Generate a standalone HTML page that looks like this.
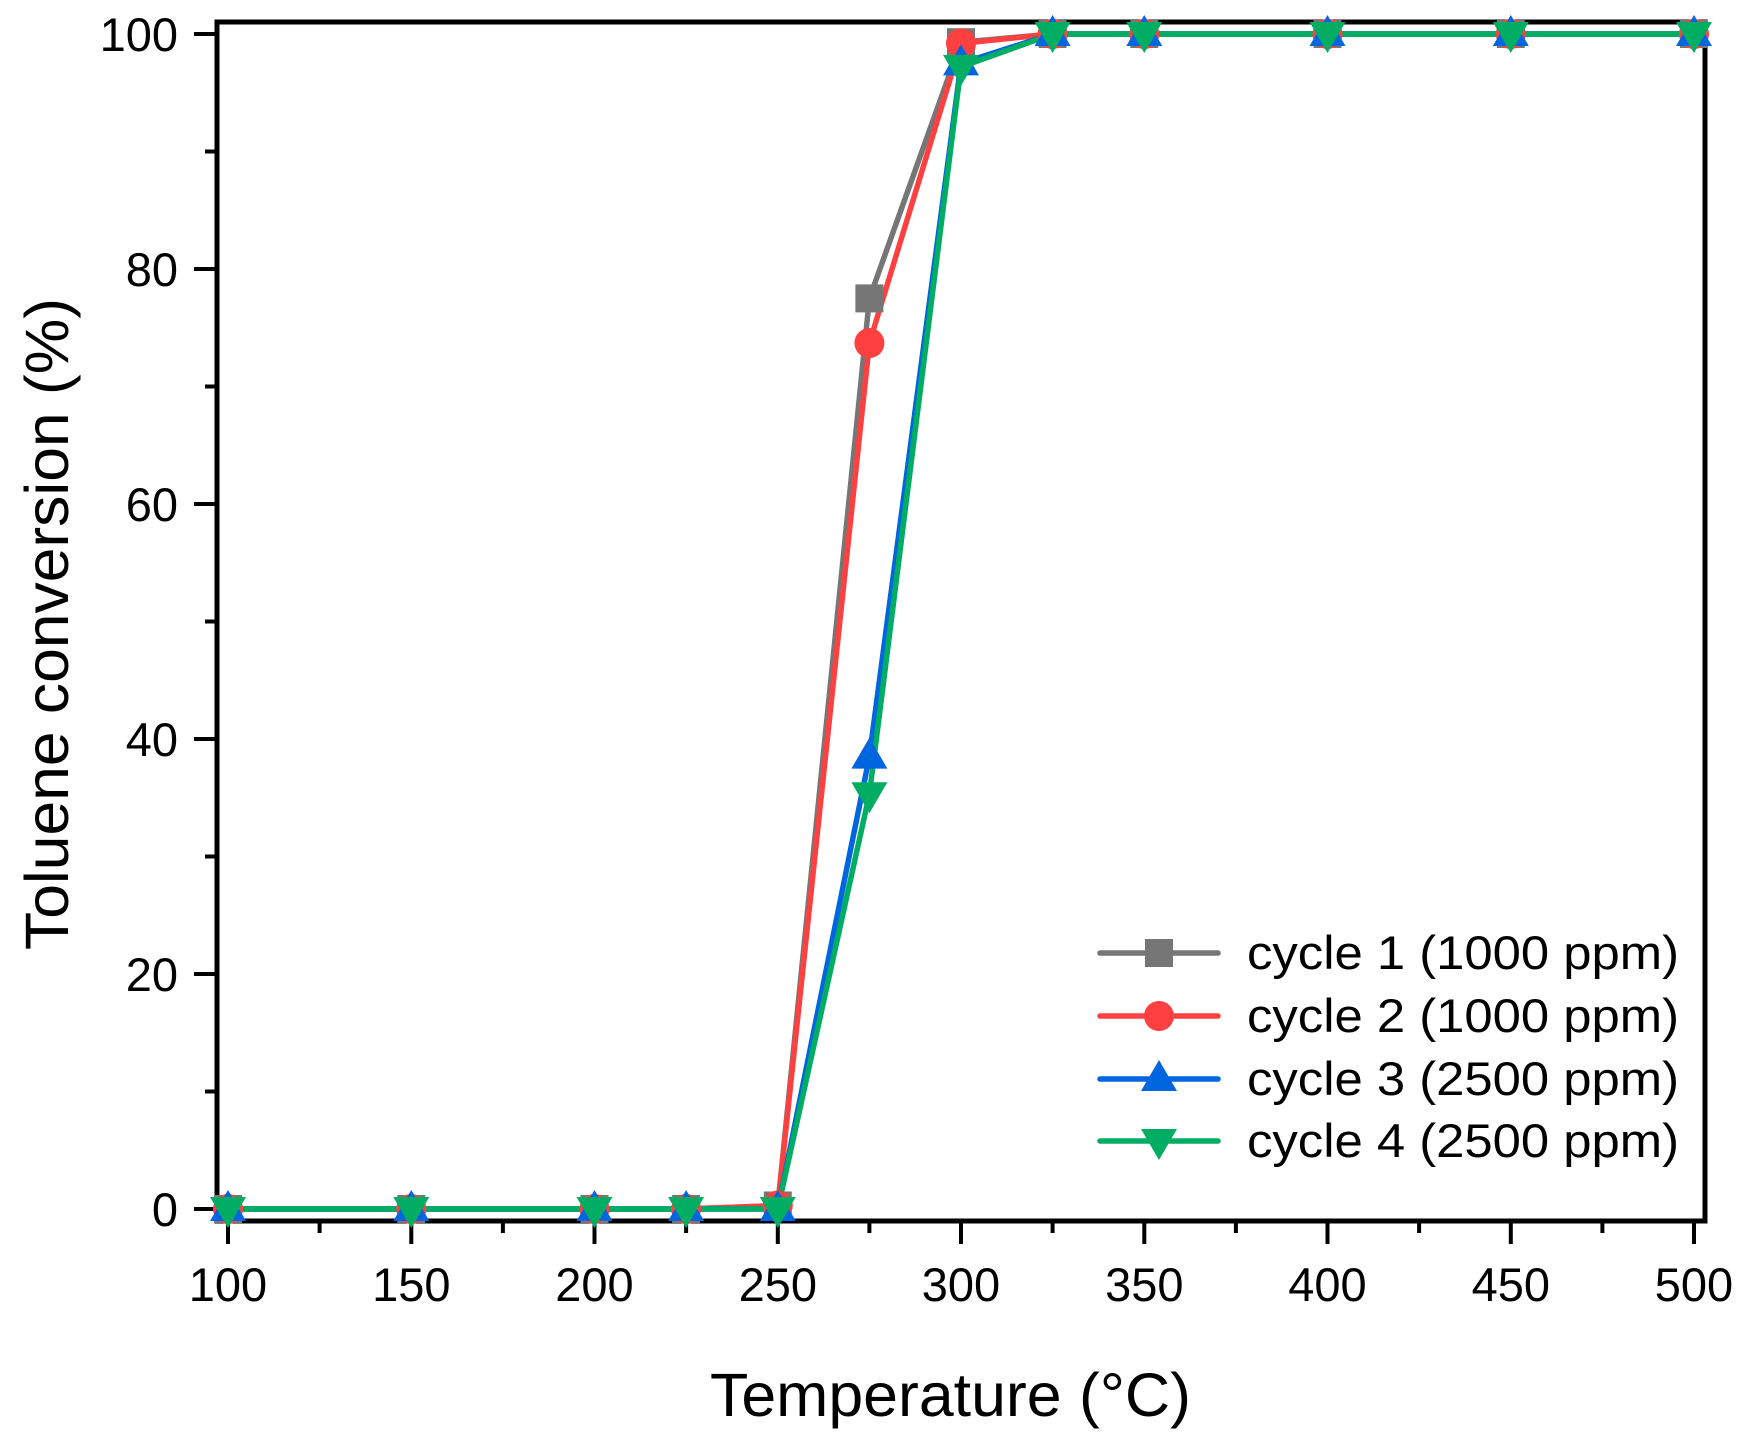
<!DOCTYPE html>
<html><head><meta charset="utf-8"><style>html,body{margin:0;padding:0;background:#fff}svg{display:block}</style></head><body>
<svg width="1748" height="1443" viewBox="0 0 1748 1443" xmlns="http://www.w3.org/2000/svg" font-family="Liberation Sans, Arial, sans-serif">
<defs>
<rect id="sq" x="-14" y="-14" width="28" height="28" fill="#767676"/>
<circle id="ci" r="15" fill="#ff4040"/>
<polygon id="tu" points="0,-19 18,12 -18,12" fill="#0066e0"/>
<polygon id="td" points="0,19 18,-12 -18,-12" fill="#00ad63"/>
</defs>
<rect x="217" y="22" width="1488" height="1199" fill="none" stroke="#000" stroke-width="5"/>
<g stroke="#000" stroke-width="4">
<line x1="228" y1="1221" x2="228" y2="1244"/><line x1="411.3" y1="1221" x2="411.3" y2="1244"/><line x1="594.5" y1="1221" x2="594.5" y2="1244"/><line x1="777.8" y1="1221" x2="777.8" y2="1244"/><line x1="961" y1="1221" x2="961" y2="1244"/><line x1="1144.3" y1="1221" x2="1144.3" y2="1244"/><line x1="1327.5" y1="1221" x2="1327.5" y2="1244"/><line x1="1510.8" y1="1221" x2="1510.8" y2="1244"/><line x1="1694" y1="1221" x2="1694" y2="1244"/>
<line x1="319.6" y1="1221" x2="319.6" y2="1233"/><line x1="502.9" y1="1221" x2="502.9" y2="1233"/><line x1="686.1" y1="1221" x2="686.1" y2="1233"/><line x1="869.4" y1="1221" x2="869.4" y2="1233"/><line x1="1052.6" y1="1221" x2="1052.6" y2="1233"/><line x1="1235.9" y1="1221" x2="1235.9" y2="1233"/><line x1="1419.1" y1="1221" x2="1419.1" y2="1233"/><line x1="1602.4" y1="1221" x2="1602.4" y2="1233"/>
<line x1="194" y1="1209" x2="217" y2="1209"/><line x1="194" y1="974" x2="217" y2="974"/><line x1="194" y1="739" x2="217" y2="739"/><line x1="194" y1="504" x2="217" y2="504"/><line x1="194" y1="269" x2="217" y2="269"/><line x1="194" y1="34" x2="217" y2="34"/>
<line x1="205" y1="1091.5" x2="217" y2="1091.5"/><line x1="205" y1="856.5" x2="217" y2="856.5"/><line x1="205" y1="621.5" x2="217" y2="621.5"/><line x1="205" y1="386.5" x2="217" y2="386.5"/><line x1="205" y1="151.5" x2="217" y2="151.5"/>
</g>
<g font-size="47" text-anchor="middle" fill="#000">
<text x="228" y="1301">100</text><text x="411.3" y="1301">150</text><text x="594.5" y="1301">200</text><text x="777.8" y="1301">250</text><text x="961" y="1301">300</text><text x="1144.3" y="1301">350</text><text x="1327.5" y="1301">400</text><text x="1510.8" y="1301">450</text><text x="1694" y="1301">500</text>
</g>
<g font-size="47" text-anchor="end" fill="#000">
<text x="178" y="1226">0</text><text x="178" y="991">20</text><text x="178" y="756">40</text><text x="178" y="521">60</text><text x="178" y="286">80</text><text x="178" y="51">100</text>
</g>
<text x="710" y="1416" font-size="61" textLength="481" lengthAdjust="spacingAndGlyphs">Temperature (°C)</text>
<text transform="translate(68,624) rotate(-90)" font-size="61" text-anchor="middle" textLength="652" lengthAdjust="spacingAndGlyphs">Toluene conversion (%)</text>
<g fill="none" stroke-width="5.5" stroke-linejoin="round">
<polyline stroke="#767676" points="228,1209 411.3,1209 594.5,1209 686.1,1209 777.8,1205.5 869.4,298.4 961,42.2 1052.6,34 1144.3,34 1327.5,34 1510.8,34 1694,34"/>
<polyline stroke="#ff4040" points="228,1209 411.3,1209 594.5,1209 686.1,1209 777.8,1205.5 869.4,343 961,43.4 1052.6,34 1144.3,34 1327.5,34 1510.8,34 1694,34"/>
<polyline stroke="#0066e0" points="228,1209 411.3,1209 594.5,1209 686.1,1209 777.8,1209 869.4,756.6 961,63.4 1052.6,34 1144.3,34 1327.5,34 1510.8,34 1694,34"/>
<polyline stroke="#00ad63" points="228,1209 411.3,1209 594.5,1209 686.1,1209 777.8,1209 869.4,794.2 961,66.9 1052.6,34 1144.3,34 1327.5,34 1510.8,34 1694,34"/>
</g>
<g>
<use href="#sq" x="228" y="1209"/><use href="#sq" x="411.3" y="1209"/><use href="#sq" x="594.5" y="1209"/><use href="#sq" x="686.1" y="1209"/><use href="#sq" x="777.8" y="1205.5"/><use href="#sq" x="869.4" y="298.4"/><use href="#sq" x="961" y="42.2"/><use href="#sq" x="1052.6" y="34"/><use href="#sq" x="1144.3" y="34"/><use href="#sq" x="1327.5" y="34"/><use href="#sq" x="1510.8" y="34"/><use href="#sq" x="1694" y="34"/>
<use href="#ci" x="228" y="1209"/><use href="#ci" x="411.3" y="1209"/><use href="#ci" x="594.5" y="1209"/><use href="#ci" x="686.1" y="1209"/><use href="#ci" x="777.8" y="1205.5"/><use href="#ci" x="869.4" y="343"/><use href="#ci" x="961" y="43.4"/><use href="#ci" x="1052.6" y="34"/><use href="#ci" x="1144.3" y="34"/><use href="#ci" x="1327.5" y="34"/><use href="#ci" x="1510.8" y="34"/><use href="#ci" x="1694" y="34"/>
<use href="#tu" x="228" y="1209"/><use href="#tu" x="411.3" y="1209"/><use href="#tu" x="594.5" y="1209"/><use href="#tu" x="686.1" y="1209"/><use href="#tu" x="777.8" y="1209"/><use href="#tu" x="869.4" y="756.6"/><use href="#tu" x="961" y="63.4"/><use href="#tu" x="1052.6" y="34"/><use href="#tu" x="1144.3" y="34"/><use href="#tu" x="1327.5" y="34"/><use href="#tu" x="1510.8" y="34"/><use href="#tu" x="1694" y="34"/>
<use href="#td" x="228" y="1209"/><use href="#td" x="411.3" y="1209"/><use href="#td" x="594.5" y="1209"/><use href="#td" x="686.1" y="1209"/><use href="#td" x="777.8" y="1209"/><use href="#td" x="869.4" y="794.2"/><use href="#td" x="961" y="66.9"/><use href="#td" x="1052.6" y="34"/><use href="#td" x="1144.3" y="34"/><use href="#td" x="1327.5" y="34"/><use href="#td" x="1510.8" y="34"/><use href="#td" x="1694" y="34"/>
</g>
<g stroke-width="5.5" stroke-linecap="round">
<line x1="1100" y1="953" x2="1218" y2="953" stroke="#767676"/><use href="#sq" x="1159" y="953"/>
<line x1="1100" y1="1016" x2="1218" y2="1016" stroke="#ff4040"/><use href="#ci" x="1159" y="1016"/>
<line x1="1100" y1="1079" x2="1218" y2="1079" stroke="#0066e0"/><use href="#tu" x="1159" y="1079"/>
<line x1="1100" y1="1141" x2="1218" y2="1141" stroke="#00ad63"/><use href="#td" x="1159" y="1141"/>
</g>
<g font-size="47" fill="#000">
<text x="1247" y="969" textLength="432" lengthAdjust="spacingAndGlyphs">cycle 1 (1000 ppm)</text>
<text x="1247" y="1032" textLength="432" lengthAdjust="spacingAndGlyphs">cycle 2 (1000 ppm)</text>
<text x="1247" y="1095" textLength="432" lengthAdjust="spacingAndGlyphs">cycle 3 (2500 ppm)</text>
<text x="1247" y="1157" textLength="432" lengthAdjust="spacingAndGlyphs">cycle 4 (2500 ppm)</text>
</g>
</svg>
</body></html>
